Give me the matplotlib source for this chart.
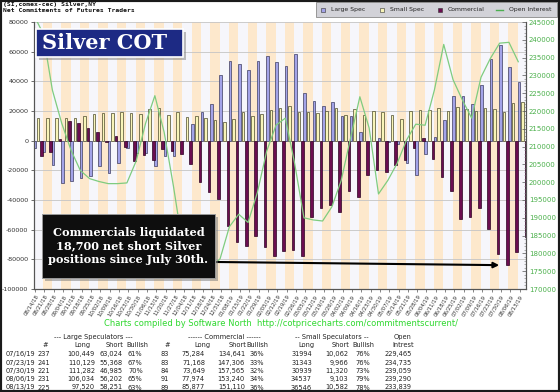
import matplotlib
matplotlib.use('Agg')
import matplotlib.pyplot as plt
import numpy as np
from matplotlib.patches import Rectangle
from matplotlib.lines import Line2D
from matplotlib.ticker import MultipleLocator

# ---------------- data ----------------
dates = ["08/14/18","08/21/18","08/28/18","09/04/18","09/11/18","09/18/18","09/25/18",
         "10/02/18","10/09/18","10/16/18","10/23/18","10/30/18","11/06/18","11/13/18",
         "11/20/18","11/27/18","12/04/18","12/11/18","12/18/18","12/24/18","12/31/18",
         "01/08/19","01/15/19","01/22/19","01/29/19","02/05/19","02/12/19","02/19/19",
         "02/26/19","03/05/19","03/12/19","03/19/19","03/26/19","04/02/19","04/09/19",
         "04/16/19","04/23/19","04/30/19","05/07/19","05/14/19","05/21/19","05/28/19",
         "06/04/19","06/11/19","06/18/19","06/25/19","07/02/19","07/09/19","07/16/19",
         "07/23/19","07/30/19","08/06/19","08/13/19"]

large_spec = [-5000, -7600, -16200, -28500, -27400, -25100, -23600, -17300, -21800, -15000,
              -4900, -8300, -8000, -16800, -10500, -10500, -500, 11400, 19500, 24900,
              44400, 53900, 51600, 47800, 53900, 56800, 52700, 50000, 58100, 32100,
              26900, 23100, 26000, 16400, 16400, 5800, -200, 2000, -900, -2000,
              -15000, -22900, -8800, 2500, 14100, 30300, 30300, 24900, 37425, 54761,
              64297, 49832, 39269]

small_spec = [15300, 15100, 15300, 15000, 15300, 16400, 17700, 18400, 18400, 19300,
              18400, 18000, 21300, 22200, 17500, 19500, 16000, 16400, 15300, 14100,
              12800, 14600, 19300, 16400, 18000, 20900, 22000, 23600, 19500, 19500,
              18600, 20200, 22000, 17300, 21300, 17500, 20200, 19100, 17500, 14800,
              19700, 20900, 20900, 22000, 19700, 22700, 21300, 20200, 21932, 21377,
              19619, 25434, 25964]

commercial = [-10300, -7500, 900, 13500, 12100, 8700, 5900, -1100, 3400, -4300,
              -13500, -9700, -13300, -5400, -7000, -9000, -15500, -27800, -34800, -39000,
              -57200, -68500, -70900, -64200, -71900, -77700, -74700, -73600, -77600, -51600,
              -45500, -43300, -48000, -33700, -37700, -23300, -20000, -21100, -16600, -12800,
              -4700, 2000, -12100, -24500, -33800, -53000, -51600, -45100, -59357, -76138,
              -83916, -75266, -65233]

open_interest = [247000, 241800, 225900, 216600, 209000, 203300, 201000, 200200, 199600, 199600,
                 199800, 206000, 216500, 224300, 214000, 198800, 182000, 176000, 175000, 176000,
                 178500, 187500, 191000, 188700, 197100, 208700, 216000, 218000, 205300, 190000,
                 189400, 189100, 193100, 200500, 212400, 224000, 215200, 196700, 200500, 205300,
                 211800, 216300, 216000, 225900, 238700, 228800, 223100, 218000, 229465, 234735,
                 239059, 239290, 233839]

left_ticks = list(range(-100000, 80001, 20000))
right_ticks = list(range(170000, 245001, 5000))

table_dates = ["07/16/19", "07/23/19", "07/30/19", "08/06/19", "08/13/19"]
ls_count = ["237", "241", "221", "231", "225"]
ls_long = ["100,449", "110,129", "111,282", "106,034", "97,520"]
ls_short = ["63,024", "55,368", "46,985", "56,202", "58,251"]
ls_bull = ["61%", "67%", "70%", "65%", "63%"]
cm_count = ["83", "83", "84", "91", "89"]
cm_long = ["75,284", "71,168", "73,649", "77,974", "85,877"]
cm_short = ["134,641", "147,306", "157,565", "153,240", "151,110"]
cm_bull = ["36%", "33%", "32%", "34%", "36%"]
ss_long = ["31994", "31343", "30939", "34537", "36546"]
ss_short = ["10,062", "9,966", "11,320", "9,103", "10,582"]
ss_bull = ["76%", "76%", "73%", "79%", "78%"]
oi_text = ["229,465", "234,735", "239,059", "239,290", "233,839"]

# ---------------- figure ----------------
W, H = 560, 392
fig = plt.figure(figsize=(W / 100, H / 100), dpi=100)
fig.patch.set_facecolor('white')

def fx(px):
    return px / W

def fy(py):
    return 1 - py / H

ax_l, ax_r, ax_t, ax_b = 34, 526, 22, 289
ax = fig.add_axes([fx(ax_l), fy(ax_b), (ax_r - ax_l) / W, (ax_b - ax_t) / H])
ax2 = ax.twinx()

n = len(dates)
x = np.arange(n)

# background bands
for i in range(n):
    ax.axvspan(i - 0.5, i + 0.5, color='#fde8cc' if i % 2 else '#f6f6fb', lw=0, zorder=0)

ax.set_axisbelow(True)
ax.yaxis.grid(True, color='#c4c4c4', lw=0.6)

bw = 0.28
ax.bar(x - 0.38, large_spec, bw, color='#a3a3e8', edgecolor='#3c3c60', lw=0.5, zorder=2)
ax.bar(x, small_spec, bw, color='#f8f4b8', edgecolor='#4a4a2a', lw=0.5, zorder=2)
ax.bar(x + 0.38, commercial, bw, color='#6b0d50', edgecolor='#2a0020', lw=0.5, zorder=2)

ax2.plot(x - 0.45, open_interest, color='#7fcc7f', lw=0.9, zorder=3)

ax.set_xlim(-0.42, n - 0.62)
ax.set_ylim(-100000, 80000)
ax2.set_ylim(170000, 245000)

ax.set_yticks(left_ticks)
ax.set_yticklabels([str(v) for v in left_ticks])
ax.tick_params(axis='y', labelsize=4.6, labelcolor='#333333', length=2.5, width=0.6, pad=1.5, color='#555555')

ax.set_xticks(x - 0.3)
ax.set_xticklabels(dates, rotation=58, ha='right', rotation_mode='anchor', fontsize=3.9, color='#333333')
ax.tick_params(axis='x', length=2, width=0.5, pad=1.5, color='#555555')

ax2.set_yticks(right_ticks)
ax2.set_yticklabels([str(v) for v in right_ticks])
ax2.yaxis.set_minor_locator(MultipleLocator(1000))
ax2.tick_params(axis='y', which='major', labelsize=5, labelcolor='#4cb04c', length=3,
                width=0.5, direction='in', pad=2, color='#555555')
ax2.tick_params(axis='y', which='minor', length=1.5, width=0.4, direction='in', color='#777777')

for a in (ax, ax2):
    a.spines['top'].set_visible(False)
    for s in ('left', 'right', 'bottom'):
        a.spines[s].set_color('#555555')
        a.spines[s].set_linewidth(0.8)

# ---------------- Silver COT box ----------------
fig.add_artist(Rectangle((fx(39), fy(60)), 147 / W, 28 / H, transform=fig.transFigure,
                         fc='#888888', ec='none', alpha=0.55, zorder=10))
fig.add_artist(Rectangle((fx(36), fy(57)), 147 / W, 28 / H, transform=fig.transFigure,
                         fc='#1d2a84', ec='white', lw=1.2, zorder=11))
fig.text(fx(105), fy(43), "Silver COT", ha='center', va='center', fontsize=15,
         fontweight='bold', family='DejaVu Serif', color='white', zorder=12)

# ---------------- annotation box ----------------
fig.add_artist(Rectangle((fx(45), fy(281)), 173 / W, 64 / H, transform=fig.transFigure,
                         fc='#777777', ec='none', alpha=0.5, zorder=10))
fig.add_artist(Rectangle((fx(42), fy(278)), 173 / W, 64 / H, transform=fig.transFigure,
                         fc='#0e0e0e', ec='#9a9a9a', lw=0.7, zorder=11))
fig.text(fx(128.5), fy(246), "Commercials liquidated\n18,700 net short Silver\npositions since July 30th.",
         ha='center', va='center', fontsize=8.1, fontweight='bold', family='DejaVu Serif',
         color='white', linespacing=1.25, zorder=12)

ax2.annotate("", xy=(50 - 0.5, commercial[50]), xycoords=ax.transData,
             xytext=((217 - ax_l) / (ax_r - ax_l), (ax_b - 262) / (ax_b - ax_t)),
             textcoords='axes fraction',
             arrowprops=dict(arrowstyle='-|>', color='black', lw=1.5, mutation_scale=8,
                             shrinkA=0, shrinkB=0), zorder=9)

# ---------------- header texts ----------------
fig.text(fx(3), fy(4.5), "(SI,comex-cec) Silver,NY", fontsize=4.6, fontweight='bold',
         family='DejaVu Sans Mono', va='center', color='#111111')
fig.text(fx(3), fy(10.5), "Net Commitments of Futures Traders", fontsize=4.6, fontweight='bold',
         family='DejaVu Sans Mono', va='center', color='#111111')

# ---------------- legend ----------------
fig.add_artist(Rectangle((fx(316), fy(17)), 241 / W, 15 / H, transform=fig.transFigure,
                         fc='#d2d2d8', ec='#8a8a8a', lw=0.6, zorder=10))
leg_items = [("Large Spec", 323, 331, '#a3a3e8', 's'),
             ("Small Spec", 382, 390, '#f8f4b8', 's'),
             ("Commercial", 440, 448, '#6b0d50', 's'),
             ("Open Interest", 500, 509, '#4caf50', 'line')]
for label, mx, tx, col, kind in leg_items:
    if kind == 's':
        fig.add_artist(Line2D([fx(mx)], [fy(9.5)], marker='s', markersize=2.6, color=col,
                              markeredgecolor='#333333', markeredgewidth=0.4,
                              transform=fig.transFigure, zorder=11))
    else:
        fig.add_artist(Line2D([fx(mx - 4), fx(mx + 3)], [fy(9.5), fy(9.5)], color=col, lw=1.0,
                              transform=fig.transFigure, zorder=11))
    fig.text(fx(tx), fy(9.5), label, fontsize=4.4, va='center', ha='left', color='#222222', zorder=12)

# ---------------- credit line ----------------
fig.text(fx(281), fy(323), "Charts compiled by Software North  http://cotpricecharts.com/commitmentscurrent/",
         ha='center', va='center', fontsize=6.0, color='#2fd82f')

# ---------------- table ----------------
tfs = 4.8
tcol = '#222222'
def t(px, py, s, ha):
    fig.text(fx(px), fy(py), s, ha=ha, va='center', fontsize=tfs, color=tcol)

t(93, 336.7, "--- Large Speculators ---", 'center')
t(224, 336.7, "------ Commercial ------", 'center')
t(332, 336.7, "-- Small Speculators --", 'center')
t(402.5, 336.7, "Open", 'center')
for s, px in [("#", 45), ("Long", 82.5), ("Short", 115), ("Bullish", 137.5), ("#", 167),
              ("Long", 202.5), ("Short", 237.5), ("Bullish", 257), ("Long", 306.5),
              ("Short", 340.5), ("Bullish", 363), ("Intrest", 403)]:
    t(px, 345, s, 'center')

row_y = [354.3, 362.6, 370.9, 379.2, 387.5]
for r, py in enumerate(row_y):
    t(6, py, table_dates[r], 'left')
    t(44, py, ls_count[r], 'center')
    t(95, py, ls_long[r], 'right')
    t(123, py, ls_short[r], 'right')
    t(128, py, ls_bull[r], 'left')
    t(165, py, cm_count[r], 'center')
    t(205, py, cm_long[r], 'right')
    t(245, py, cm_short[r], 'right')
    t(250, py, cm_bull[r], 'left')
    t(312, py, ss_long[r], 'right')
    t(348, py, ss_short[r], 'right')
    t(355, py, ss_bull[r], 'left')
    t(412, py, oi_text[r], 'right')

# outer border
fig.add_artist(Rectangle((0, 0), 1, 1, transform=fig.transFigure, fill=False,
                         ec='#1a1a1a', lw=3, zorder=20))

fig.savefig('out.png', dpi=100)
